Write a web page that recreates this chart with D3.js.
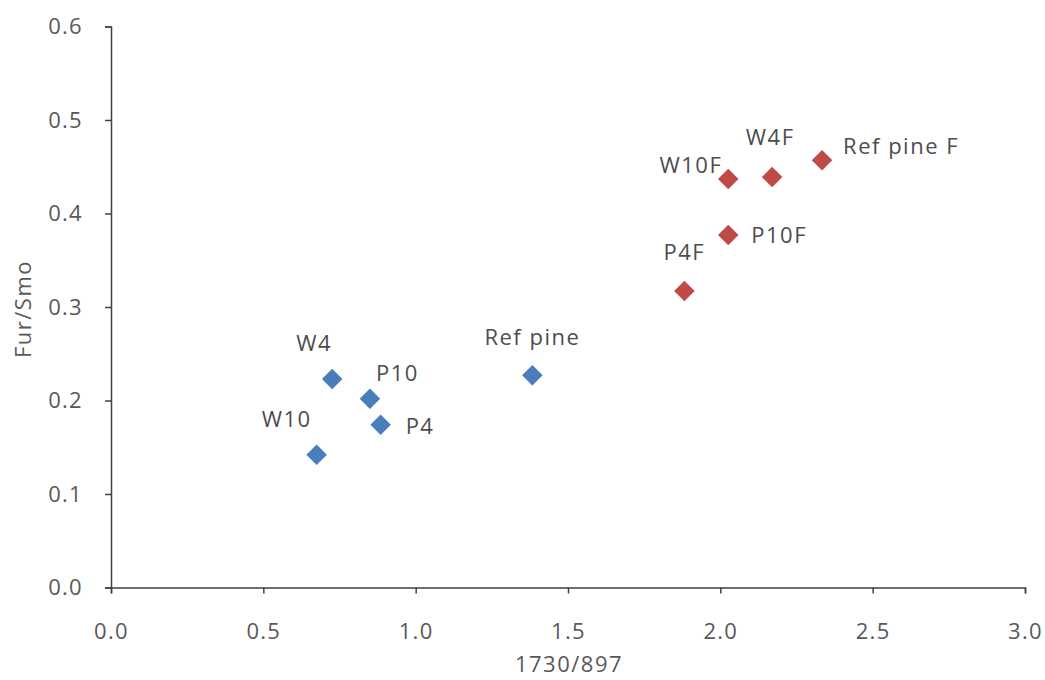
<!DOCTYPE html>
<html>
<head>
<meta charset="utf-8">
<script src="https://cdn.jsdelivr.net/npm/d3@7/dist/d3.min.js"></script>
<style>
  html, body { margin: 0; padding: 0; background: #fff; }
  svg text { font-family: "Open Sans", "Noto Sans", sans-serif; }
</style>
</head>
<body>
<svg id="chart" width="1045" height="680"></svg>
<script>
// Untreated samples
const untreatedNames = ["W10", "W4", "P10", "P4", "Ref pine"];
const untreatedX = [0.675, 0.726, 0.850, 0.885, 1.383];
const untreatedY = [0.142, 0.223, 0.202, 0.174, 0.227];

// Treated (F) samples
const treatedNames = ["P4F", "P10F", "W10F", "W4F", "Ref pine F"];
const treatedX = [1.882, 2.026, 2.026, 2.170, 2.334];
const treatedY = [0.317, 0.377, 0.437, 0.439, 0.457];

const xTicks = [0.0, 0.5, 1.0, 1.5, 2.0, 2.5, 3.0];
const yTicks = [0.0, 0.1, 0.2, 0.3, 0.4, 0.5, 0.6];

// Label placement next to each marker: [dx, dy, text-anchor]
const untreatedLabelPos = [[-30, -28, "middle"], [-18, -28, "middle"], [6, -18, "start"], [25, 9, "start"], [0, -30, "middle"]];
const treatedLabelPos = [[0, -31, "middle"], [23, 8, "start"], [-6, -6, "end"], [-2, -32, "middle"], [21, -6, "start"]];

const svg = d3.select("#chart");
const margin = { left: 111, right: 20, top: 26.5, bottom: 92.5 };
const W = 1045, H = 680;

const x = d3.scaleLinear().domain([0, 3]).range([margin.left, W - margin.right]);
const y = d3.scaleLinear().domain([0, 0.6]).range([H - margin.bottom, margin.top]);

const axisColor = "#404040";
const tickTextColor = "#595959";

// Y axis
const yAxis = svg.append("g")
  .attr("transform", `translate(${margin.left},0)`)
  .call(d3.axisLeft(y).tickValues(yTicks).tickFormat(d3.format(".1f")).tickSize(6).tickPadding(22));
// X axis
const xAxis = svg.append("g")
  .attr("transform", `translate(0,${y(0)})`)
  .call(d3.axisBottom(x).tickValues(xTicks).tickFormat(d3.format(".1f")).tickSize(6).tickPadding(30));

[yAxis, xAxis].forEach(g => {
  g.select(".domain").attr("stroke", axisColor).attr("stroke-width", 1.5);
  g.selectAll(".tick line").attr("stroke", axisColor).attr("stroke-width", 1.5);
  g.selectAll(".tick text").attr("fill", tickTextColor).style("font-size", "22px")
    .style("letter-spacing", "1.3px")
    .style("font-family", "'Open Sans', sans-serif");
});

// Axis titles, centred on the plot area
svg.append("text")
  .attr("x", (x(0) + x(3)) / 2 + 1)
  .attr("y", 672)
  .attr("text-anchor", "middle")
  .attr("fill", tickTextColor)
  .style("font-size", "22px")
  .style("letter-spacing", "1.5px")
  .text("1730/897");

svg.append("text")
  .attr("transform", `translate(31,${(y(0) + y(0.6)) / 2 + 2}) rotate(-90)`)
  .attr("text-anchor", "middle")
  .attr("fill", tickTextColor)
  .style("font-size", "22px")
  .style("letter-spacing", "1.5px")
  .text("Fur/Smo");

function drawSeries(names, xs, ys, labelPos, color) {
  const data = names.map((n, i) => ({ name: n, x: xs[i], y: ys[i], pos: labelPos[i] }));
  const g = svg.append("g");
  g.selectAll("path")
    .data(data)
    .join("path")
    .attr("d", d3.symbol().type(d3.symbolSquare).size(210))
    .attr("transform", d => `translate(${x(d.x)},${y(d.y)}) rotate(45)`)
    .attr("fill", color);
  g.selectAll("text")
    .data(data)
    .join("text")
    .attr("x", d => x(d.x) + d.pos[0])
    .attr("y", d => y(d.y) + d.pos[1])
    .attr("text-anchor", d => d.pos[2])
    .attr("fill", "#4d4d4d")
    .style("font-size", "22px")
    .style("letter-spacing", "1.5px")
    .text(d => d.name);
}

drawSeries(untreatedNames, untreatedX, untreatedY, untreatedLabelPos, "#4a7ebb");
drawSeries(treatedNames, treatedX, treatedY, treatedLabelPos, "#be4b48");
</script>
</body>
</html>
